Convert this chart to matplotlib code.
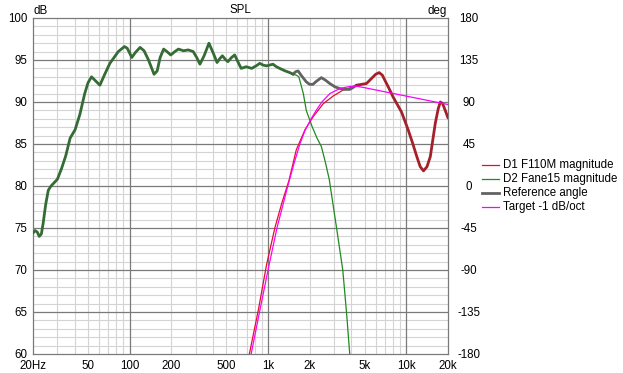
import numpy as np
import matplotlib
matplotlib.use("Agg")
import matplotlib.pyplot as plt
from matplotlib.lines import Line2D
from matplotlib.ticker import FixedLocator, NullFormatter

plt.rcParams["axes.unicode_minus"] = False

# ---------------- data ----------------
total_f = [20, 20.7, 21.5, 22.2, 23.0, 23.7, 24.7, 25.8, 27.0, 28.1, 30, 32.2, 34.5, 37.1, 40.3,
           43.6, 47.3, 50, 53.0, 56, 60.9, 66, 71.9, 82.7, 91.6, 96, 103.6, 110, 118.9, 127,
           136.8, 150, 158, 166, 176, 186, 198, 212, 225, 245, 265, 288, 305, 322, 345, 374,
           400, 428, 450, 468, 490, 513, 545, 574, 605, 640, 695, 762, 820, 872, 920, 974,
           1030, 1085, 1150, 1215, 1330, 1438, 1520, 1580, 1650, 1750, 1890, 2000, 2110, 2250,
           2430, 2600, 2795, 3050, 3300, 3600, 3900, 4100, 4360, 4750, 5150, 5600, 6000, 6360,
           6700, 6990, 7500, 8020, 9230, 10300, 11100, 11900, 12600, 13300, 14100, 14900,
           15500, 16200, 17000, 17600, 18300, 19100, 20000]
total_db = [74.4, 74.7, 74.5, 74.0, 74.3, 75.6, 77.8, 79.5, 80.0, 80.3, 80.8, 82.1, 83.6, 85.7, 86.7,
            88.5, 91.0, 92.3, 93.0, 92.6, 92.0, 93.3, 94.6, 96.0, 96.6, 96.4, 95.3, 95.9, 96.5, 96.1,
            95.0, 93.3, 93.7, 95.3, 96.3, 96.0, 95.6, 96.0, 96.3, 96.1, 96.2, 96.0, 95.3, 94.5, 95.5, 97.0,
            95.9, 94.7, 95.2, 95.5, 95.1, 94.8, 95.3, 95.6, 94.8, 94.0, 94.2, 94.0, 94.3, 94.6, 94.4, 94.3,
            94.4, 94.5, 94.2, 94.0, 93.7, 93.5, 93.3, 93.6, 93.7, 93.1, 92.4, 92.1, 92.1, 92.5,
            92.9, 92.6, 92.2, 91.8, 91.6, 91.5, 91.5, 91.7, 92.0, 92.1, 92.2, 92.8, 93.3, 93.5,
            93.2, 92.6, 91.6, 90.6, 88.8, 86.7, 85.1, 83.5, 82.3, 81.8, 82.3, 83.5,
            85.4, 87.5, 89.2, 90.0, 89.8, 89.0, 88.1]

d2_f = [1438, 1520, 1600, 1670, 1800, 1890, 2080, 2260, 2430, 2600, 2770, 3130, 3470, 3700, 3900, 4000]
d2_db = [93.5, 93.3, 93.2, 93.0, 91.0, 89.0, 87.1, 85.7, 84.7, 82.8, 80.8, 75.0, 70.0, 64.8, 59.9, 57.5]

d1_f = [680, 733, 855, 975, 1120, 1260, 1420, 1600, 1850, 2130, 2510, 2950, 3470, 4090, 4360]
d1_db = [57.5, 60.0, 65.4, 70.6, 75.0, 78.0, 80.7, 84.3, 86.7, 88.3, 89.8, 90.7, 91.4, 91.8, 92.0]

target_f = [700, 755, 868, 1000, 1160, 1390, 1530, 1700, 1850, 2050, 2250, 2450, 2800, 3300,
            3900, 4300, 5000, 10000, 20000]
target_db = [57.5, 60.0, 65.0, 70.0, 75.0, 80.0, 82.5, 85.0, 86.6, 88.0, 89.1, 90.0, 91.0, 91.6,
             91.85, 91.9, 91.7, 90.7, 89.7]

x_ticks = [20, 50, 100, 200, 500, 1000, 2000, 5000, 10000, 20000]
x_labels = ["20Hz", "50", "100", "200", "500", "1k", "2k", "5k", "10k", "20k"]
db_ticks = [60, 65, 70, 75, 80, 85, 90, 95, 100]
deg_ticks = [-180, -135, -90, -45, 0, 45, 90, 135, 180]
legend_labels = ["D1 F110M magnitude", "D2 Fane15 magnitude", "Reference angle", "Target -1 dB/oct"]

# ---------------- style ----------------
FONT = "Liberation Sans"
FS = 8.3
c_major = "#7a7a7a"
c_minor = "#d4d4d4"
c_thick_green = "#356b35"
c_thick_gray = "#626262"
c_thick_red = "#a3212b"
c_d1 = "#e0102a"
c_d2 = "#1f8a1f"
c_target = "#ff00ff"

W, H = 623, 373
fig = plt.figure(figsize=(W / 100, H / 100), dpi=100)
fig.patch.set_facecolor("white")
L, R, T, B = 33, 448, 18, 354
ax = fig.add_axes([L / W, (H - B) / H, (R - L) / W, (B - T) / H])
ax.set_xscale("log")
ax.set_xlim(20, 20000)
ax.set_ylim(60, 100)

# grid
minor_x = [m * 10 ** e for e in range(1, 5) for m in range(2, 10) if 20 < m * 10 ** e < 20000]
for xv in minor_x:
    ax.axvline(xv, color=c_minor, lw=0.8, zorder=0)
for yv in range(61, 100):
    if yv % 5:
        ax.axhline(yv, color=c_minor, lw=0.8, zorder=0)
for xv in [100, 1000, 10000]:
    ax.axvline(xv, color=c_major, lw=0.9, zorder=0.5)
for yv in db_ticks[1:-1]:
    ax.axhline(yv, color=c_major, lw=0.9, zorder=0.5)
for s in ax.spines.values():
    s.set_color(c_major)
    s.set_linewidth(0.9)

ax.xaxis.set_major_locator(FixedLocator(x_ticks))
ax.set_xticklabels(x_labels)
ax.xaxis.set_minor_formatter(NullFormatter())
ax.tick_params(axis="x", which="both", length=0, pad=4, labelsize=FS)
ax.set_yticks(db_ticks)
ax.tick_params(axis="y", which="both", length=0, pad=4, labelsize=FS)
for lab in ax.get_xticklabels() + ax.get_yticklabels():
    lab.set_fontfamily(FONT)

ax2 = ax.twinx()
ax2.set_ylim(-180, 180)
ax2.set_yticks(deg_ticks)
ax2.tick_params(axis="y", length=0, pad=15, labelsize=FS)
for lab in ax2.get_yticklabels():
    lab.set_fontfamily(FONT)
    lab.set_horizontalalignment("center")
for s in ax2.spines.values():
    s.set_visible(False)

# curves
tf = np.array(total_f, dtype=float)
td = np.array(total_db, dtype=float)
ax.plot(d2_f, d2_db, color=c_d2, lw=0.9, zorder=3)
ax.plot(d1_f, d1_db, color=c_d1, lw=0.9, zorder=3)
m_g = tf <= 1520
m_m = (tf >= 1520) & (tf <= 4360)
m_r = tf >= 4360
ax.plot(tf[m_m], td[m_m], color=c_thick_gray, lw=2.0, zorder=4, solid_capstyle="round")
ax.plot(tf[m_g], td[m_g], color=c_thick_green, lw=2.0, zorder=4, solid_capstyle="round")
ax.plot(tf[m_r], td[m_r], color=c_thick_red, lw=2.0, zorder=4, solid_capstyle="round")
ax.plot(target_f, target_db, color=c_target, lw=0.9, zorder=5)

# titles
fig.text(34 / W, 1 - 11 / H, "dB", fontsize=FS, fontfamily=FONT, va="center", ha="left")
fig.text((L + R) / 2 / W, 1 - 10 / H, "SPL", fontsize=FS, fontfamily=FONT, va="center", ha="center")
fig.text(447 / W, 1 - 11 / H, "deg", fontsize=FS, fontfamily=FONT, va="center", ha="right")

# legend (manual)
leg_colors = [c_d1, c_d2, c_thick_gray, c_target]
leg_widths = [0.9, 0.9, 2.0, 0.9]
rows_y = [165, 179, 193, 207]
for lbl, col, lw_, yy in zip(legend_labels, leg_colors, leg_widths, rows_y):
    fig.add_artist(Line2D([482 / W, 499 / W], [1 - yy / H, 1 - yy / H], color=col, lw=lw_,
                          transform=fig.transFigure))
    fig.text(503 / W, 1 - yy / H, lbl, fontsize=FS, fontfamily=FONT, va="center", ha="left")

fig.savefig("out.png", dpi=100, facecolor="white")
